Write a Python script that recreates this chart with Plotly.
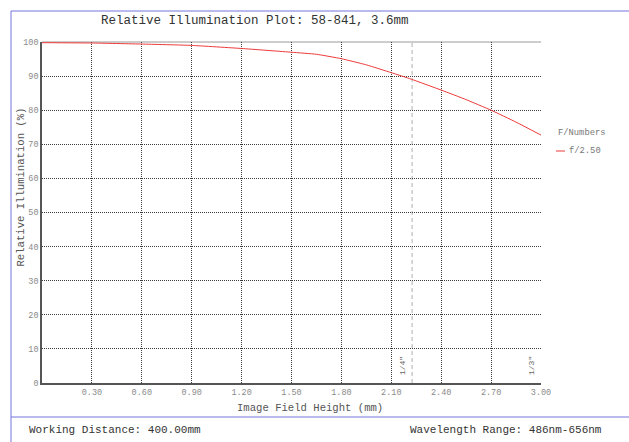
import plotly.graph_objects as go

# ---- data ----
field_height_mm = [0.0, 0.30, 0.60, 0.90, 1.20, 1.50, 1.65, 1.80, 1.95, 2.10, 2.22, 2.40, 2.55, 2.70, 2.85, 3.00]
rel_illum_pct = [99.8, 99.7, 99.4, 99.0, 98.1, 97.0, 96.4, 95.1, 93.3, 91.0, 89.1, 85.9, 83.1, 80.0, 76.5, 72.7]
series_name = "f/2.50"
legend_title = "F/Numbers"
x_ticks = [0.30, 0.60, 0.90, 1.20, 1.50, 1.80, 2.10, 2.40, 2.70, 3.00]
x_tick_labels = ["0.30", "0.60", "0.90", "1.20", "1.50", "1.80", "2.10", "2.40", "2.70", "3.00"]
y_ticks = [0, 10, 20, 30, 40, 50, 60, 70, 80, 90, 100]
y_tick_labels = ["0", "10", "20", "30", "40", "50", "60", "70", "80", "90", "100"]
sensor_marks = [2.225, 3.00]
sensor_labels = ['1/4"', '1/3"']
title_text = "Relative Illumination Plot: 58-841, 3.6mm"
x_title = "Image Field Height (mm)"
y_title = "Relative Illumination (%)"
footer_left = "Working Distance: 400.00mm"
footer_right = "Wavelength Range: 486nm-656nm"

W, H = 629, 442
L, R, T, B = 42, 541, 42, 383
FONT = "Courier New, Liberation Mono, monospace"
BLUE = "#7474dc"
RED = "#ee3a3a"


def px(xp):
    return (xp - L) / (R - L)


def py(yp):
    return (B - yp) / (B - T)


fig = go.Figure()
fig.add_trace(go.Scatter(
    x=field_height_mm, y=rel_illum_pct, mode="lines", name=series_name,
    line=dict(color=RED, width=1, shape="spline", smoothing=0.4), cliponaxis=False, showlegend=False,
))

shapes = []
# sensor marker lines
for sx in sensor_marks[:-1]:
    shapes.append(dict(type="line", xref="x", yref="y", x0=sx, x1=sx, y0=0, y1=100,
                       line=dict(color="#b0b0b0", width=1, dash="4px,3px"), layer="below"))
# plot box: top border
shapes.append(dict(type="line", xref="paper", yref="paper", x0=0, x1=1, y0=1, y1=1,
                   line=dict(color="#9a9a9a", width=1), layer="below"))
# frame lines (blue)
shapes.append(dict(type="line", xref="paper", yref="paper", x0=px(11), x1=px(11), y0=py(11), y1=py(445),
                   line=dict(color=BLUE, width=1)))
shapes.append(dict(type="line", xref="paper", yref="paper", x0=px(11), x1=px(632), y0=py(11), y1=py(11),
                   line=dict(color=BLUE, width=1)))
shapes.append(dict(type="line", xref="paper", yref="paper", x0=px(11), x1=px(632), y0=py(417), y1=py(417),
                   line=dict(color=BLUE, width=1)))
# legend sample line
shapes.append(dict(type="line", xref="paper", yref="paper", x0=px(556), x1=px(565), y0=py(151), y1=py(151),
                   line=dict(color=RED, width=1)))

annotations = []
annotations.append(dict(text=title_text, xref="paper", yref="paper", x=px(254.5), y=py(21),
                        xanchor="center", yanchor="middle", showarrow=False,
                        font=dict(family=FONT, size=12.5, color="#333333")))
annotations.append(dict(text=x_title, xref="paper", yref="paper", x=px(310), y=py(408),
                        xanchor="center", yanchor="middle", showarrow=False,
                        font=dict(family=FONT, size=10.6, color="#555555")))
annotations.append(dict(text=y_title, xref="paper", yref="paper", x=px(21), y=py(187.5),
                        xanchor="center", yanchor="middle", showarrow=False, textangle=-90,
                        font=dict(family=FONT, size=10.6, color="#555555")))
annotations.append(dict(text=footer_left, xref="paper", yref="paper", x=px(27), y=py(430.5),
                        xanchor="left", yanchor="middle", showarrow=False,
                        font=dict(family=FONT, size=11, color="#333333")))
annotations.append(dict(text=footer_right, xref="paper", yref="paper", x=px(604), y=py(430),
                        xanchor="right", yanchor="middle", showarrow=False,
                        font=dict(family=FONT, size=11, color="#333333")))
annotations.append(dict(text=legend_title, xref="paper", yref="paper", x=px(556), y=py(132.5),
                        xanchor="left", yanchor="middle", showarrow=False,
                        font=dict(family=FONT, size=8.8, color="#777777")))
annotations.append(dict(text=series_name, xref="paper", yref="paper", x=px(567), y=py(151),
                        xanchor="left", yanchor="middle", showarrow=False,
                        font=dict(family=FONT, size=8.8, color="#777777")))
for sx, lab in zip(sensor_marks, sensor_labels):
    annotations.append(dict(text=lab, xref="x", yref="y", x=sx, y=0, xshift=-9.5, yshift=6,
                            xanchor="center", yanchor="bottom", showarrow=False, textangle=-90,
                            font=dict(family=FONT, size=8, color="#666666")))

fig.update_layout(
    width=W, height=H,
    margin=dict(l=L, r=W - R, t=T, b=H - B, pad=0),
    paper_bgcolor="white", plot_bgcolor="white",
    showlegend=False,
    shapes=shapes, annotations=annotations,
    font=dict(family=FONT),
)
fig.update_xaxes(
    range=[0, 3.0], tickvals=x_ticks, ticktext=x_tick_labels,
    showgrid=True, gridcolor="#3c3c3c", gridwidth=1, griddash="1px,1px",
    showline=True, linecolor="#555555", linewidth=1.5,
    ticks="", zeroline=False,
    tickfont=dict(family=FONT, size=8.5, color="#8a8a8a"),
)
fig.update_yaxes(
    range=[0, 100], tickvals=y_ticks, ticktext=y_tick_labels,
    showgrid=True, gridcolor="#3c3c3c", gridwidth=1, griddash="1px,1px",
    showline=True, linecolor="#555555", linewidth=1.5,
    ticks="", zeroline=False,
    tickfont=dict(family=FONT, size=8.5, color="#8a8a8a"),
)

fig.write_html("out.html", config={"displayModeBar": False},
               post_script="document.body.style.margin='0px';document.body.style.overflow='hidden';")
